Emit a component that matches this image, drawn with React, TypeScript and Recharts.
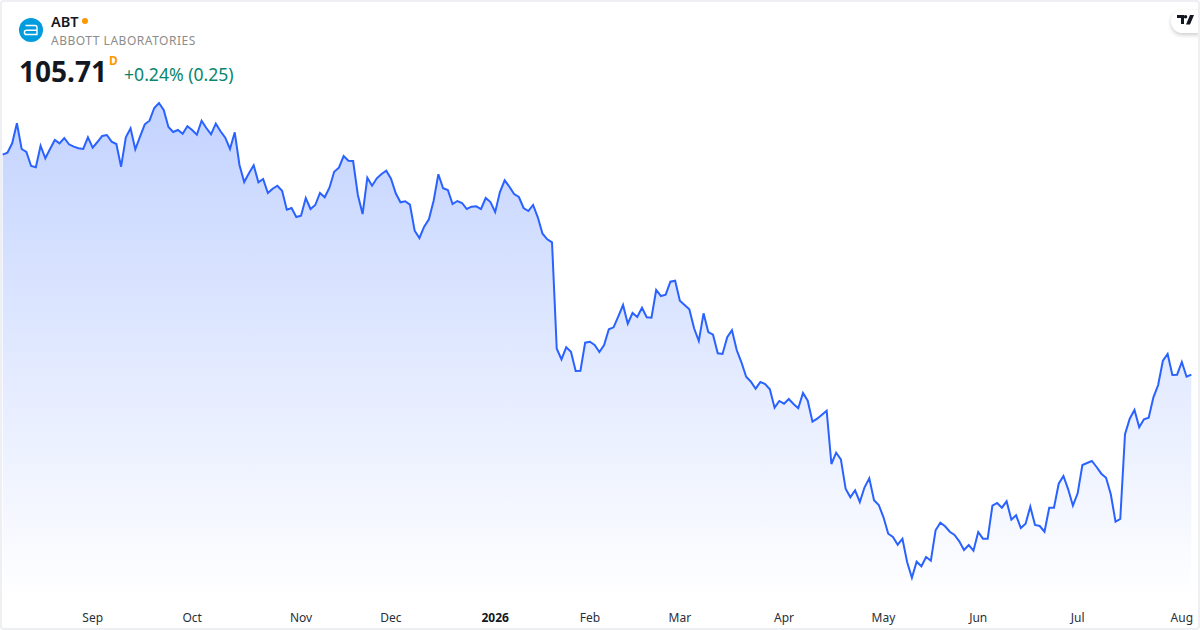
import { AreaChart, Area, XAxis, YAxis } from "recharts"

const closes = [
  127.71, 127.91, 128.85, 130.85, 128.28, 127.98, 126.58, 126.45, 128.61, 127.35,
  128.28, 129.18, 128.85, 129.38, 128.75, 128.51, 128.35, 128.28, 129.45, 128.41,
  128.98, 129.58, 129.68, 129.01, 128.78, 126.51, 129.45, 130.35, 128.25, 129.51,
  130.75, 131.11, 132.38, 132.88, 132.18, 130.48, 129.98, 130.18, 129.81, 130.55,
  130.18, 129.71, 131.11, 130.38, 129.75, 130.81, 130.05, 129.41, 128.28, 129.95,
  126.68, 124.98, 125.85, 126.65, 124.95, 125.28, 123.88, 124.31, 124.61, 124.11,
  122.21, 122.38, 121.48, 121.61, 123.38, 122.28, 122.68, 123.88, 123.45, 124.41,
  126.01, 126.41, 127.58, 127.11, 127.08, 123.68, 121.78, 125.41, 124.61, 125.35,
  125.78, 126.11, 125.31, 123.85, 122.95, 123.05, 122.71, 120.11, 119.38, 120.51,
  121.25, 123.11, 125.75, 124.35, 124.18, 122.78, 123.08, 122.88, 122.28, 122.51,
  122.55, 122.28, 123.38, 122.98, 121.98, 123.98, 125.15, 124.51, 123.78, 123.48,
  122.38, 122.08, 122.68, 121.45, 119.81, 119.25, 118.95, 108.31, 107.25, 108.45,
  108.01, 106.08, 106.11, 108.91, 109.01, 108.68, 107.98, 108.68, 110.25, 110.45,
  111.55, 112.68, 110.81, 111.88, 111.48, 112.41, 111.45, 111.41, 114.18, 113.58,
  113.71, 115.01, 115.11, 113.11, 112.68, 112.25, 110.35, 109.08, 111.85, 109.98,
  109.71, 107.85, 107.78, 109.45, 110.15, 108.18, 106.95, 105.51, 105.01, 104.31,
  104.98, 104.78, 104.25, 102.41, 103.08, 102.81, 103.28, 102.78, 102.35, 103.88,
  103.11, 101.01, 101.31, 101.71, 102.11, 96.78, 97.91, 97.25, 94.31, 93.45,
  94.15, 92.98, 94.45, 95.35, 93.15, 92.68, 91.45, 89.81, 89.48, 88.71,
  89.31, 86.95, 85.41, 87.01, 86.55, 87.48, 87.11, 90.15, 90.91, 90.55,
  90.01, 89.68, 89.05, 88.18, 88.68, 88.11, 89.98, 89.31, 89.31, 92.61,
  92.88, 92.41, 93.05, 91.21, 91.65, 90.38, 90.81, 92.51, 90.68, 90.58,
  90.01, 92.41, 92.41, 94.81, 95.58, 94.25, 92.61, 93.85, 96.68, 96.88,
  97.08, 96.48, 95.81, 95.41, 93.75, 91.01, 91.28, 99.75, 101.31, 102.18,
  100.45, 101.25, 101.41, 103.45, 104.68, 107.11, 107.78, 105.68, 105.71, 106.98,
  105.51, 105.71,
]

const tickIndexes = [19, 40, 63, 82, 104, 124, 143, 165, 186, 206, 227, 249]
const tickLabels = ["Sep", "Oct", "Nov", "Dec", "2026", "Feb", "Mar", "Apr", "May", "Jun", "Jul", "Aug"]

const chartData = closes.map((close, index) => ({ index, close }))

const FONT = "'Noto Sans', sans-serif"

function MonthTick({ x, payload }: any) {
  const label = tickLabels[tickIndexes.indexOf(payload.value)]
  return (
    <text x={x} y={622} textAnchor="middle" fontFamily={FONT} fontSize={12}
      fontWeight={label === "2026" ? 700 : 400} fill={label === "2026" ? "#131722" : "#2a2e39"}>
      {label}
    </text>
  )
}

function Header() {
  return (
    <>
      <svg width={24} height={24} viewBox="0 0 24 24" style={{ position: "absolute", left: 19, top: 18 }}>
        <circle cx="12" cy="12" r="12" fill="#009cde" />
        <path d="M6.5 7.5h9.5a2 2 0 0 1 2 2v7H7.5a2 2 0 0 1 0-4.2h10" fill="none" stroke="#fff" strokeWidth="1.4" />
      </svg>
      <div style={{ position: "absolute", left: 51, top: 12, fontSize: 14.5, fontWeight: 600, color: "#131722", lineHeight: "18px" }}>ABT</div>
      <div style={{ position: "absolute", left: 82, top: 18, width: 6, height: 6, borderRadius: 3, background: "#ff9800" }} />
      <div style={{ position: "absolute", left: 51, top: 32, fontSize: 12, color: "#8c8c8c", lineHeight: "18px", letterSpacing: 0.52 }}>ABBOTT LABORATORIES</div>
      <div style={{ position: "absolute", left: 19, top: 52, fontSize: 28, fontWeight: 700, color: "#131722", lineHeight: "38px" }}>105.71</div>
      <div style={{ position: "absolute", left: 109, top: 53, fontSize: 12, fontWeight: 700, color: "#ff9800", lineHeight: "16px" }}>D</div>
      <div style={{ position: "absolute", left: 124, top: 63, fontSize: 17.6, color: "#08866f", lineHeight: "22px" }}>+0.24% (0.25)</div>
      <div style={{ position: "absolute", left: 1171, top: 10, width: 29, height: 23, background: "#fff", borderRadius: "12px 0 0 12px", boxShadow: "0 2px 4px rgba(0,0,0,0.2)" }}>
        <svg width={20} height={11} viewBox="0 0 20 11" style={{ position: "absolute", left: 6, top: 5 }}>
          <path d="M0 0h7v9H4V3H0zM8.5 0a1.8 1.8 0 1 1 0 3.6 1.8 1.8 0 0 1 0-3.6zM13 0h4l-4 9.5H9z" fill="#131722" />
        </svg>
      </div>
    </>
  )
}

export default function App() {
  return (
    <div style={{ position: "fixed", left: 0, top: 0, width: 1200, height: 630, background: "#fff", fontFamily: FONT, overflow: "hidden" }}>
      <AreaChart width={1200} height={630} data={chartData} margin={{ top: 0, right: 8.7, bottom: 0, left: 2.7 }}>
        <defs>
          <linearGradient id="closeFill" x1="0" y1="0" x2="0" y2="1">
            <stop offset="0%" stopColor="#2962ff" stopOpacity={0.28} />
            <stop offset="100%" stopColor="#2962ff" stopOpacity={0} />
          </linearGradient>
        </defs>
        <XAxis dataKey="index" type="number" domain={[0, closes.length - 1]} ticks={tickIndexes} interval={0}
          height={30} axisLine={false} tickLine={false} tick={<MonthTick />} />
        <YAxis hide domain={[83.18, 143.18]} />
        <Area dataKey="close" type="linear" stroke="#2962ff" strokeWidth={2} fill="url(#closeFill)" fillOpacity={1}
          dot={false} activeDot={false} isAnimationActive={false} />
      </AreaChart>
      <Header />
      <div style={{ position: "absolute", inset: 0, boxSizing: "border-box", border: "2px solid #eeeff2", borderRadius: 4, pointerEvents: "none" }} />
    </div>
  )
}
